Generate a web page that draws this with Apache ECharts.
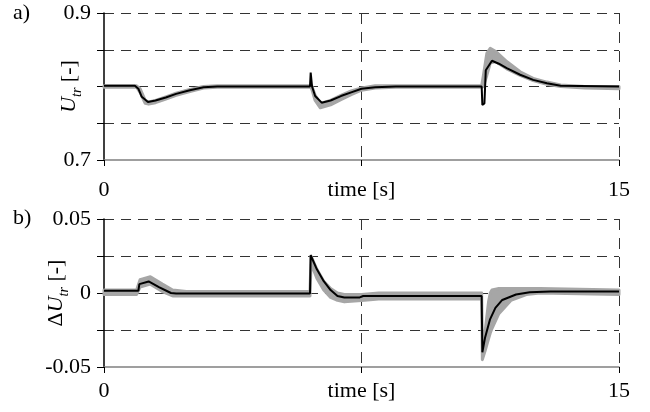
<!DOCTYPE html>
<html lang="en">
  <head>
    <meta charset="utf-8" />
    <script src="https://cdn.jsdelivr.net/npm/echarts@6/dist/echarts.min.js"></script>
    <title>Utr</title>
    <style>
      html, body { margin: 0; padding: 0; background: #fff; }
      #chart { width: 650px; height: 412px; }
    </style>
  </head>
  <body>
    <div id="chart"></div>
    <script>
      // a) transformer voltage, black = reference run
      var tTop = [0, 0.9, 1.0, 1.1, 1.28, 1.5, 1.8, 2.1, 2.5, 2.9, 3.3, 6.0, 6.02, 6.06, 6.15, 6.34, 6.6, 6.9, 7.2, 7.5, 7.9, 8.5, 11.0, 11.02, 11.08, 11.12, 11.3, 11.5, 11.73, 12.12, 12.5, 12.9, 13.3, 15]
      var uBlack = [0.801, 0.801, 0.797, 0.786, 0.779, 0.781, 0.785, 0.790, 0.795, 0.799, 0.800, 0.800, 0.819, 0.800, 0.787, 0.778, 0.781, 0.787, 0.792, 0.797, 0.799, 0.800, 0.800, 0.775, 0.777, 0.822, 0.835, 0.831, 0.825, 0.816, 0.809, 0.8045, 0.801, 0.800]
      // a) grey envelope
      var tTopGray = [0, 0.95, 1.05, 1.2, 1.3, 1.5, 1.8, 2.1, 2.5, 2.9, 3.3, 6.0, 6.05, 6.15, 6.3, 6.6, 6.9, 7.2, 7.5, 7.9, 8.5, 11.0, 11.05, 11.15, 11.25, 11.4, 11.73, 12.12, 12.5, 12.9, 13.3, 14.0, 15]
      var uGrayLo = [0.799, 0.799, 0.792, 0.777, 0.776, 0.778, 0.783, 0.788, 0.793, 0.798, 0.799, 0.799, 0.797, 0.781, 0.771, 0.775, 0.782, 0.789, 0.795, 0.798, 0.799, 0.799, 0.800, 0.815, 0.832, 0.834, 0.824, 0.815, 0.808, 0.803, 0.800, 0.798, 0.797]
      var uGrayHi = [0.801, 0.801, 0.797, 0.781, 0.779, 0.781, 0.786, 0.791, 0.796, 0.800, 0.801, 0.801, 0.801, 0.788, 0.777, 0.781, 0.788, 0.794, 0.798, 0.801, 0.801, 0.801, 0.815, 0.845, 0.852, 0.848, 0.834, 0.820, 0.811, 0.806, 0.802, 0.800, 0.800]

      // b) voltage deviation
      var tBot = [0, 1.0, 1.03, 1.3, 1.6, 1.95, 2.1, 6.0, 6.02, 6.2, 6.4, 6.6, 6.8, 7.0, 7.45, 7.55, 8.0, 11.0, 11.02, 11.1, 11.24, 11.4, 11.6, 12.0, 12.4, 13.0, 15]
      var dBlack = [0.0015, 0.0015, 0.006, 0.0078, 0.004, 0.0, -0.0003, -0.0003, 0.0255, 0.016, 0.008, 0.002, -0.002, -0.003, -0.003, -0.002, -0.002, -0.002, -0.040, -0.030, -0.018, -0.010, -0.0047, -0.001, 0.0005, 0.001, 0.001]
      var tBotGray = [0, 0.95, 1.05, 1.35, 1.7, 2.0, 2.4, 6.0, 6.03, 6.2, 6.4, 6.6, 6.8, 7.0, 7.5, 8.0, 11.0, 11.02, 11.1, 11.2, 11.25, 11.3, 11.5, 11.85, 12.3, 12.7, 15]
      var dGrayLo = [-0.001, -0.001, 0.004, 0.006, 0.001, -0.002, -0.002, -0.002, 0.020, 0.010, 0.002, -0.003, -0.005, -0.006, -0.005, -0.004, -0.004, -0.045, -0.039, -0.031, -0.027, -0.024, -0.014, -0.005, -0.001, 0.000, -0.001]
      var dGrayHi = [0.002, 0.002, 0.009, 0.011, 0.006, 0.002, 0.001, 0.001, 0.025, 0.016, 0.008, 0.003, 0.000, -0.001, -0.001, 0.000, 0.000, -0.036, -0.026, -0.006, 0.000, 0.002, 0.003, 0.003, 0.003, 0.003, 0.002]

      var xLabels = ['0', 'time [s]', '15']
      var yTopLabels = ['0.7', '', '', '', '0.9']
      var yBotLabels = ['-0.05', '', '0', '', '0.05']

      var font = 'Liberation Serif'
      var dashColor = '#333'

      function pairs (t, v) {
        return t.map(function (x, i) { return [x, v[i]] })
      }

      // grey band drawn as one polygon: upper edge forward, lower edge back
      function band (t, lo, hi, idx) {
        return {
          type: 'custom',
          xAxisIndex: idx,
          yAxisIndex: idx,
          silent: true,
          data: [[t[0], lo[0]]],
          renderItem: function (params, api) {
            var pts = []
            for (var i = 0; i < t.length; i++) pts.push(api.coord([t[i], hi[i]]))
            for (var j = t.length - 1; j >= 0; j--) pts.push(api.coord([t[j], lo[j]]))
            return {
              type: 'polygon',
              shape: { points: pts },
              style: { fill: '#a6a6a6', stroke: '#a6a6a6', lineWidth: 3, lineJoin: 'round' }
            }
          }
        }
      }

      function xAxis (idx, margin) {
        return {
          type: 'value', gridIndex: idx, min: 0, max: 15, interval: 7.5,
          axisLine: { show: true, onZero: false, lineStyle: { color: '#808080', width: 1.5 } },
          axisTick: { show: true, length: 6, lineStyle: { color: '#000' } },
          axisLabel: {
            color: '#000', fontFamily: font, fontSize: 22, margin: margin,
            formatter: function (v, i) { return xLabels[i] }
          },
          splitLine: { show: true, showMinLine: false, lineStyle: { color: dashColor, type: [11, 8], width: 1 } }
        }
      }

      function yAxis (idx, min, max, interval, labels, name, gap) {
        return {
          type: 'value', gridIndex: idx, min: min, max: max, interval: interval,
          name: name, nameLocation: 'middle', nameRotate: 90, nameGap: gap,
          nameMoveOverlap: false,
          nameTextStyle: {
            color: '#000', fontFamily: font, fontSize: 22,
            rich: {
              i: { fontFamily: font, fontStyle: 'italic', fontSize: 22, color: '#000', lineHeight: 30, verticalAlign: 'middle' },
              s: { fontFamily: font, fontStyle: 'italic', fontSize: 14, color: '#000', lineHeight: 30, verticalAlign: 'bottom' },
              n: { fontFamily: font, fontSize: 22, color: '#000', lineHeight: 30, verticalAlign: 'middle' }
            }
          },
          axisLine: { show: true, lineStyle: { color: '#000', width: 1.5 } },
          axisTick: { show: true, length: 7, lineStyle: { color: '#000' } },
          axisLabel: {
            color: '#000', fontFamily: font, fontSize: 22, margin: 13,
            formatter: function (v, i) { return labels[i] }
          },
          splitLine: { show: true, showMinLine: false, lineStyle: { color: dashColor, type: [10, 7], width: 1 } }
        }
      }

      var chart = echarts.init(document.getElementById('chart'), null, { renderer: 'canvas' })
      chart.setOption({
        animation: false,
        backgroundColor: '#fff',
        textStyle: { fontFamily: font },
        graphic: [
          { type: 'text', left: 13, top: 2, style: { text: 'a)', font: '22px "Liberation Serif"', fill: '#000' } },
          { type: 'text', left: 13, top: 207, style: { text: 'b)', font: '22px "Liberation Serif"', fill: '#000' } }
        ],
        grid: [
          { left: 104, right: 31, top: 13, height: 147 },
          { left: 104, right: 31, top: 219, height: 148 }
        ],
        xAxis: [xAxis(0, 19), xAxis(1, 13)],
        yAxis: [
          yAxis(0, 0.7, 0.9, 0.05, yTopLabels, '{i|U}{s|tr}{n| [-]}', 20),
          yAxis(1, -0.05, 0.05, 0.025, yBotLabels, '{n|Δ}{i|U}{s|tr}{n| [-]}', 33)
        ],
        series: [
          band(tTopGray, uGrayLo, uGrayHi, 0),
          {
            type: 'line', xAxisIndex: 0, yAxisIndex: 0, data: pairs(tTop, uBlack),
            showSymbol: false, lineStyle: { color: '#000', width: 2 }, z: 5
          },
          band(tBotGray, dGrayLo, dGrayHi, 1),
          {
            type: 'line', xAxisIndex: 1, yAxisIndex: 1, data: pairs(tBot, dBlack),
            showSymbol: false, lineStyle: { color: '#000', width: 2 }, z: 5
          }
        ]
      })
    </script>
  </body>
</html>
